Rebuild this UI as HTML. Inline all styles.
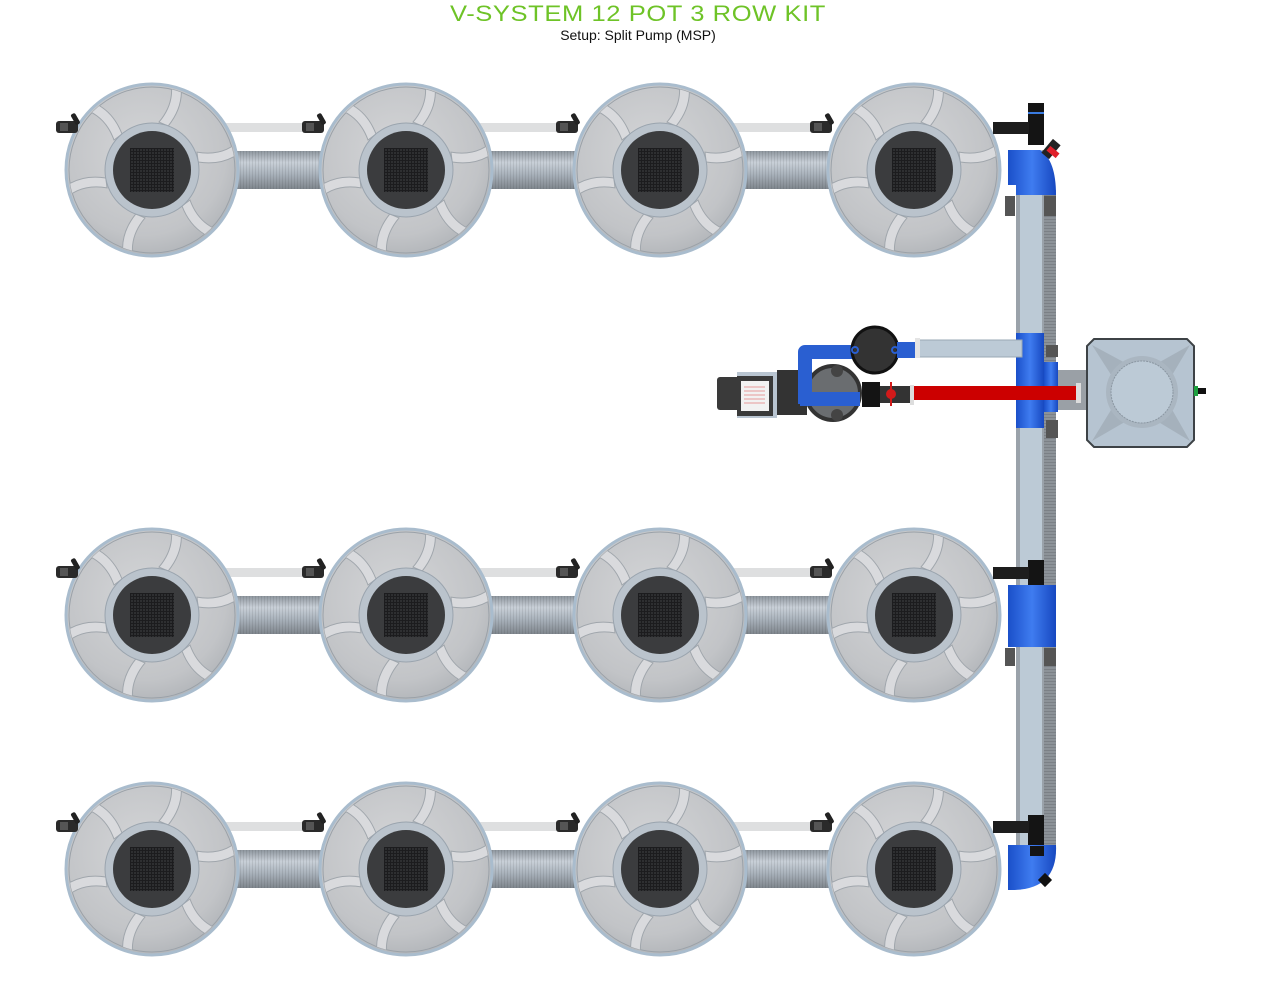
<!DOCTYPE html>
<html><head><meta charset="utf-8">
<style>
html,body{margin:0;padding:0;background:#fff;}
svg{display:block;}
</style></head>
<body>
<svg width="1276" height="997" viewBox="0 0 1276 997" xmlns="http://www.w3.org/2000/svg">
<defs>
  <radialGradient id="potg" cx="0.45" cy="0.4" r="0.6">
    <stop offset="0" stop-color="#d4d5d7"/>
    <stop offset="0.8" stop-color="#c2c4c7"/>
    <stop offset="1" stop-color="#b4b7bb"/>
  </radialGradient>
  <linearGradient id="hpipe" x1="0" y1="0" x2="0" y2="1">
    <stop offset="0" stop-color="#8e969e"/>
    <stop offset="0.3" stop-color="#c9d0d8"/>
    <stop offset="0.6" stop-color="#aab3bc"/>
    <stop offset="1" stop-color="#7f868d"/>
  </linearGradient>
  <pattern id="corr" width="3" height="4" patternUnits="userSpaceOnUse">
    <rect x="0" y="0" width="1" height="4" fill="#000" opacity="0.08"/>
  </pattern>
  <pattern id="corrv" width="4" height="3" patternUnits="userSpaceOnUse">
    <rect x="0" y="0" width="4" height="1" fill="#000" opacity="0.12"/>
  </pattern>
  <pattern id="grid" width="3" height="3" patternUnits="userSpaceOnUse">
    <rect width="3" height="3" fill="#1c1c1e"/>
    <rect width="2" height="2" fill="#2e2f31"/>
  </pattern>
  <linearGradient id="blue" x1="0" y1="0" x2="1" y2="0">
    <stop offset="0" stop-color="#1a4fc9"/>
    <stop offset="0.5" stop-color="#3f7cf0"/>
    <stop offset="1" stop-color="#1748c0"/>
  </linearGradient>
  <clipPath id="pc"><circle r="83"/></clipPath>
  <g id="pot">
    <circle r="86" fill="url(#potg)" stroke="#a9bccd" stroke-width="3"/>
    <circle r="83" fill="none" stroke="#9aa1a8" stroke-width="1"/>
    <g clip-path="url(#pc)" fill="#d9dadd" stroke="#a0a6ac" stroke-width="1">
      <path id="bl" d="M-30,-36 C-40,-62 -62,-74 -84,-70 L-80,-62 C-62,-62 -46,-52 -38,-30 Z"/>
      <use href="#bl" transform="rotate(60)"/>
      <use href="#bl" transform="rotate(120)"/>
      <use href="#bl" transform="rotate(180)"/>
      <use href="#bl" transform="rotate(240)"/>
      <use href="#bl" transform="rotate(300)"/>
    </g>
    <circle r="47" fill="#bac3cc" stroke="#9aa4ae" stroke-width="1"/>
    <circle r="39" fill="#3b3c3e"/>
    <rect x="-22" y="-22" width="44" height="44" fill="url(#grid)"/>
  </g>
  <g id="valve">
    <rect x="0" y="-6" width="22" height="12" rx="3" fill="#2a2a2a"/>
    <rect x="4" y="-4" width="8" height="8" fill="#555"/>
    <rect x="18" y="-14" width="5" height="12" rx="2" fill="#222" transform="rotate(-30 20 -6)"/>
  </g>
  <g id="row">
    <rect x="230" y="-19" width="100" height="38" fill="url(#hpipe)"/>
    <rect x="230" y="-19" width="100" height="38" fill="url(#corr)"/>
    <rect x="484" y="-19" width="100" height="38" fill="url(#hpipe)"/>
    <rect x="484" y="-19" width="100" height="38" fill="url(#corr)"/>
    <rect x="738" y="-19" width="100" height="38" fill="url(#hpipe)"/>
    <rect x="738" y="-19" width="100" height="38" fill="url(#corr)"/>
    <rect x="225" y="-47" width="85" height="9" fill="#dedfe0"/>
    <rect x="479" y="-47" width="85" height="9" fill="#dedfe0"/>
    <rect x="733" y="-47" width="85" height="9" fill="#dedfe0"/>
    <use href="#pot" x="152" y="0"/>
    <use href="#pot" x="406" y="0"/>
    <use href="#pot" x="660" y="0"/>
    <use href="#pot" x="914" y="0"/>
    <use href="#valve" x="56" y="-43"/>
    <use href="#valve" x="302" y="-43"/>
    <use href="#valve" x="556" y="-43"/>
    <use href="#valve" x="810" y="-43"/>
  </g>
</defs>

<text x="638" y="21" text-anchor="middle" font-family="Liberation Sans, sans-serif" font-size="22" fill="#6ec327" letter-spacing="0.5" textLength="376" lengthAdjust="spacingAndGlyphs">V-SYSTEM 12 POT 3 ROW KIT</text>
<text x="638" y="40" text-anchor="middle" font-family="Liberation Sans, sans-serif" font-size="14" fill="#111">Setup: Split Pump (MSP)</text>

<rect x="1016" y="150" width="28" height="715" fill="#9aa2aa"/>
<rect x="1020" y="150" width="22" height="715" fill="#bccad6"/>
<rect x="1044" y="190" width="12" height="660" fill="#8c9298"/>
<rect x="1044" y="190" width="12" height="660" fill="url(#corrv)"/>

<use href="#row" y="170"/>
<use href="#row" y="615"/>
<use href="#row" y="869"/>

<path d="M1008,150 L1040,150 Q1056,160 1056,195 L1016,195 L1016,185 L1008,185 Z" fill="url(#blue)"/>
<rect x="1028" y="103" width="16" height="42" fill="#141414"/>
<rect x="1028" y="112" width="16" height="2" fill="#3a7be0"/>
<rect x="993" y="122" width="36" height="12" fill="#1d1d1d"/>
<rect x="1046" y="140" width="10" height="18" fill="#222" transform="rotate(40 1051 149)"/>
<rect x="1047" y="149" width="12" height="6" fill="#e0202a" transform="rotate(40 1053 152)"/>
<g fill="#555"><rect x="1005" y="196" width="10" height="20"/><rect x="1044" y="196" width="12" height="20"/></g>

<rect x="1016" y="333" width="28" height="95" fill="url(#blue)"/>
<rect x="1044" y="362" width="14" height="50" fill="url(#blue)"/>
<g fill="#555"><rect x="1046" y="345" width="12" height="12"/><rect x="1046" y="420" width="12" height="18"/><rect x="1058" y="370" width="30" height="40" fill="#9aa0a6"/></g>

<rect x="1008" y="585" width="48" height="62" fill="url(#blue)"/>
<rect x="1028" y="560" width="16" height="25" fill="#141414"/>
<rect x="993" y="567" width="36" height="12" fill="#1d1d1d"/>
<g fill="#555"><rect x="1005" y="648" width="10" height="18"/><rect x="1044" y="648" width="12" height="18"/></g>

<rect x="1028" y="815" width="16" height="30" fill="#141414"/>
<rect x="993" y="821" width="36" height="12" fill="#1d1d1d"/>
<path d="M1008,845 L1056,845 Q1058,890 1012,890 L1008,890 Z" fill="url(#blue)"/>
<rect x="1030" y="846" width="14" height="10" fill="#141414"/>
<rect x="1040" y="875" width="10" height="10" fill="#111" transform="rotate(45 1045 880)"/>

<rect x="717" y="377" width="30" height="33" rx="3" fill="#3a3a3a"/>
<rect x="737" y="372" width="40" height="46" fill="#b9c5d1"/>
<rect x="737" y="376" width="36" height="40" fill="#3a3a3a"/>
<rect x="741" y="381" width="28" height="30" fill="#f2f2f2"/>
<g stroke="#e79a9a" stroke-width="1"><line x1="744" y1="387" x2="765" y2="387"/><line x1="744" y1="391" x2="765" y2="391"/><line x1="744" y1="395" x2="765" y2="395"/><line x1="744" y1="399" x2="765" y2="399"/><line x1="744" y1="403" x2="765" y2="403"/></g>
<rect x="777" y="370" width="30" height="45" fill="#333"/>
<circle cx="833" cy="393" r="27" fill="#6a6d70" stroke="#333" stroke-width="4"/>
<circle cx="837" cy="371" r="6" fill="#444"/><circle cx="837" cy="415" r="6" fill="#444"/>
<path d="M805,404 L805,352 L855,352" fill="none" stroke="#2a5fd1" stroke-width="14" stroke-linejoin="round"/>
<rect x="800" y="392" width="60" height="14" fill="#2a5fd1"/>
<circle cx="875" cy="350" r="23" fill="#333" stroke="#111" stroke-width="3"/>
<circle cx="855" cy="350" r="3" fill="none" stroke="#2a5fd1" stroke-width="2"/>
<circle cx="895" cy="350" r="3" fill="none" stroke="#2a5fd1" stroke-width="2"/>
<rect x="897" y="342" width="20" height="16" fill="#2a5fd1"/>
<rect x="917" y="340" width="105" height="17" fill="#bccad6" stroke="#9aa8b4"/>
<rect x="915" y="338" width="5" height="20" fill="#e4e4e4"/>
<rect x="862" y="382" width="18" height="25" fill="#141414"/>
<rect x="880" y="386" width="30" height="17" fill="#333"/>
<circle cx="891" cy="394" r="5" fill="#d21a1a"/>
<rect x="890" y="382" width="2" height="24" fill="#d21a1a"/>
<rect x="910" y="385" width="4" height="20" fill="#ddd"/>
<rect x="914" y="386" width="164" height="14" fill="#cc0000"/>
<rect x="1076" y="383" width="5" height="20" fill="#ddd"/>

<path d="M1094,339 L1187,339 L1194,346 L1194,440 L1187,447 L1094,447 L1087,440 L1087,346 Z" fill="#b6c4d1" stroke="#3d4246" stroke-width="2"/>
<path d="M1092,345 L1142,372 L1190,345 L1162,392 L1190,441 L1142,412 L1092,441 L1122,392 Z" fill="#9ea9b3" opacity="0.7"/>
<circle cx="1142" cy="392" r="36" fill="#aab6c1"/>
<circle cx="1142" cy="392" r="31" fill="#bccad6" stroke="#8a96a1" stroke-dasharray="2 1"/>
<rect x="1194" y="386" width="4" height="10" fill="#1ea040"/>
<rect x="1198" y="388" width="8" height="6" fill="#111"/>
</svg>
</body></html>
